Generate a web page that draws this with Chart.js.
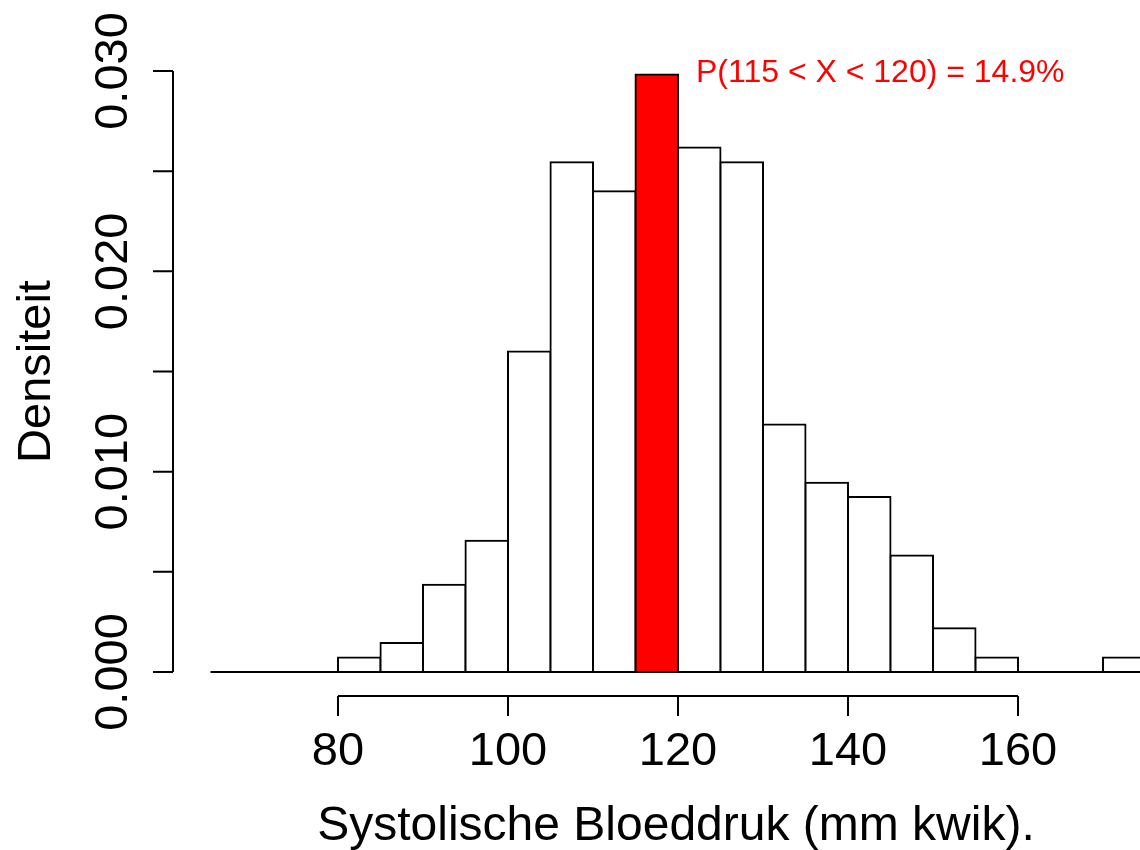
<!DOCTYPE html>
<html><head><meta charset="utf-8">
<script src="https://cdn.jsdelivr.net/npm/chart.js@4.4.1/dist/chart.umd.min.js"></script>
<style>html,body{margin:0;padding:0;background:#fff}canvas{display:block}</style>
</head><body>
<canvas id="c" width="1140" height="850"></canvas>
<script>
// ---- data ----
const binStarts = [80,85,90,95,100,105,110,115,120,125,130,135,140,145,150,155,160,165,170];
const binWidth = 5;
const densities = [0.00073,0.00145,0.00436,0.00655,0.01600,0.02545,0.02400,0.02982,0.02618,0.02545,0.01236,0.00945,0.00873,0.00582,0.00218,0.00073,0,0,0.00073];
const highlightStart = 115;
const xTicks = [80,100,120,140,160];
const yTicks = [0,0.005,0.010,0.015,0.020,0.025,0.030];
const yTickLabels = ['0.000','','0.010','','0.020','','0.030'];
const baselineRange = [65,175];
const xTitle = 'Systolische Bloeddruk (mm kwik).';
const yTitle = 'Densiteit';
const annotationText = 'P(115 < X < 120) = 14.9%';
const annotationAt = [120, 0.030];

const FONT = '"Liberation Sans", Arial, Helvetica, sans-serif';

const rAxes = {
  id: 'rAxes',
  beforeDatasetsDraw(chart) {
    const {ctx, scales:{x, y}} = chart;
    ctx.save();
    ctx.strokeStyle = '#000'; ctx.lineWidth = 2;
    const by = y.getPixelForValue(0);
    ctx.beginPath();
    ctx.moveTo(x.getPixelForValue(baselineRange[0]), by);
    ctx.lineTo(x.getPixelForValue(baselineRange[1]), by);
    ctx.stroke();
    ctx.restore();
  },
  afterDatasetsDraw(chart) {
    const {ctx, chartArea, scales:{x, y}} = chart;
    ctx.save();
    ctx.strokeStyle = '#000'; ctx.fillStyle = '#000'; ctx.lineWidth = 2;
    ctx.lineCap = 'butt';
    // x axis
    const ax = chartArea.bottom;
    ctx.beginPath();
    ctx.moveTo(x.getPixelForValue(xTicks[0]), ax);
    ctx.lineTo(x.getPixelForValue(xTicks[xTicks.length-1]), ax);
    xTicks.forEach(v => { const px = x.getPixelForValue(v); ctx.moveTo(px, ax); ctx.lineTo(px, ax + 20); });
    ctx.stroke();
    ctx.font = '47px ' + FONT;
    ctx.textAlign = 'center'; ctx.textBaseline = 'alphabetic';
    xTicks.forEach(v => ctx.fillText(String(v), x.getPixelForValue(v), ax + 69));
    ctx.font = '48px ' + FONT;
    ctx.fillText(xTitle, 676, 840);
    ctx.font = '47px ' + FONT;
    // y axis
    const ay = chartArea.left;
    ctx.beginPath();
    ctx.moveTo(ay, y.getPixelForValue(yTicks[0]));
    ctx.lineTo(ay, y.getPixelForValue(yTicks[yTicks.length-1]));
    yTicks.forEach(v => { const py = y.getPixelForValue(v); ctx.moveTo(ay, py); ctx.lineTo(ay - 20, py); });
    ctx.stroke();
    yTicks.forEach((v, i) => {
      if (!yTickLabels[i]) return;
      ctx.save();
      ctx.translate(ay - 46, y.getPixelForValue(v));
      ctx.rotate(-Math.PI / 2);
      ctx.fillText(yTickLabels[i], 0, 0);
      ctx.restore();
    });
    ctx.save();
    ctx.translate(50, (y.getPixelForValue(0) + y.getPixelForValue(0.03)) / 2);
    ctx.rotate(-Math.PI / 2);
    ctx.fillText(yTitle, 0, 0);
    ctx.restore();
    // annotation
    ctx.fillStyle = '#FF0000';
    ctx.font = '32px ' + FONT;
    ctx.textAlign = 'left';
    ctx.fillText(annotationText, x.getPixelForValue(annotationAt[0]) + 18, y.getPixelForValue(annotationAt[1]) + 11);
    ctx.restore();
  }
};

const data = binStarts.map((s, i) => ({x: s + binWidth / 2, y: densities[i]}));
const fills = binStarts.map(s => s === highlightStart ? '#FF0000' : '#FFFFFF');

new Chart(document.getElementById('c'), {
  type: 'bar',
  data: { datasets: [{
    data,
    backgroundColor: fills,
    borderColor: '#000000',
    borderWidth: 2,
    borderSkipped: false,
    inflateAmount: 1,
    barPercentage: 1,
    categoryPercentage: 1
  }]},
  options: {
    responsive: false,
    devicePixelRatio: 1,
    animation: false,
    layout: { padding: { left: 173, right: 0, top: 30, bottom: 154 } },
    plugins: { legend: { display: false }, tooltip: { enabled: false } },
    scales: {
      x: { type: 'linear', display: false, offset: false, min: 60.59, max: 174.35 },
      y: { type: 'linear', display: false, min: -0.001198, max: 0.032047 }
    }
  },
  plugins: [rAxes]
});
</script>
</body></html>
